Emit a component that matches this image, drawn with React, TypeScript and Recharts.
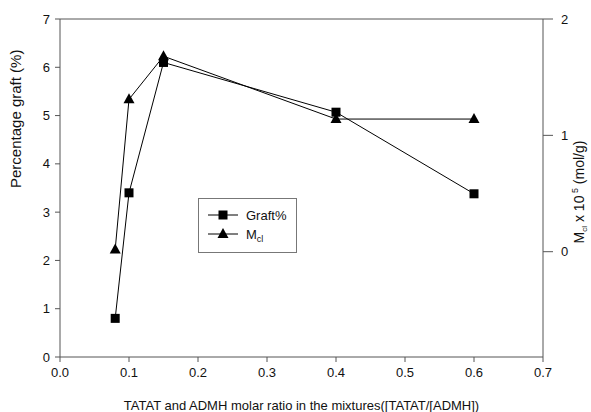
import React from 'react';
import { ComposedChart, Line, XAxis, YAxis, ReferenceLine } from 'recharts';

const ratios = [0.08, 0.1, 0.15, 0.4, 0.6];
const graftPct = [0.8, 3.4, 6.1, 5.07, 3.38];
const mclValues = [0.02, 1.31, 1.68, 1.14, 1.14];

const xTicks = [0, 0.1, 0.2, 0.3, 0.4, 0.5, 0.6, 0.7];
const leftTicks = [0, 1, 2, 3, 4, 5, 6, 7];
const rightTicks = [0, 1, 2];

const data = ratios.map((r, i) => ({ ratio: r, graft: graftPct[i], mcl: mclValues[i] }));

const FONT = '"Liberation Sans", Arial, sans-serif';
const AXIS = '#555';

const Square = (props: any) => {
  const { cx, cy, index } = props;
  return <rect key={'s' + index} x={cx - 4.5} y={cy - 4.5} width={9} height={9} fill="#000" />;
};

const Triangle = (props: any) => {
  const { cx, cy, index } = props;
  return <path key={'t' + index} d={`M${cx},${cy - 6} L${cx + 5.5},${cy + 4} L${cx - 5.5},${cy + 4} Z`} fill="#000" />;
};

const LegendBox = () => (
  <div style={{ position: 'absolute', left: 198, top: 198, border: '1px solid #777', width: 99, height: 55, boxSizing: 'border-box', background: '#fff' }}>
    <svg width={97} height={53} style={{ display: 'block' }}>
      <line x1={9} y1={16} x2={39} y2={16} stroke="#000" strokeWidth={1} />
      <rect x={19.5} y={11.5} width={9} height={9} fill="#000" />
      <text x={47} y={21} fontSize={13} fill="#111" fontFamily={FONT}>Graft%</text>
      <line x1={9} y1={35} x2={39} y2={35} stroke="#000" strokeWidth={1} />
      <path d="M24,29 L29.5,39 L18.5,39 Z" fill="#000" />
      <text x={47} y={40} fontSize={13} fill="#111" fontFamily={FONT}>
        M<tspan fontSize={9} dy={3}>cl</tspan>
      </text>
    </svg>
  </div>
);

const RightLabel = () => {
  const x = 584;
  const y = 192;
  return (
    <text x={x} y={y} transform={`rotate(-90, ${x}, ${y})`} textAnchor="middle" fontSize={14} fill="#111" fontFamily={FONT}>
      M<tspan fontSize={8} dy={3}>cl</tspan>
      <tspan dy={-3}> x 10</tspan>
      <tspan fontSize={9} dy={-6}> 5</tspan>
      <tspan dy={6}> (mol/g)</tspan>
    </text>
  );
};

export default function App() {
  return (
    <div style={{ position: 'absolute', left: 0, top: 0, width: 591, height: 412, background: '#fff' }}>
      <ComposedChart width={591} height={412} data={data} margin={{ top: 19, right: 0, bottom: 0, left: 0 }}>
        <XAxis
          dataKey="ratio"
          type="number"
          domain={[0, 0.7]}
          ticks={xTicks}
          tickFormatter={(v: number) => v.toFixed(1)}
          height={55}
          stroke={AXIS}
          tickSize={5}
          tick={{ fill: '#111', fontSize: 13, fontFamily: FONT, dy: 4 }}
          label={{ value: 'TATAT and ADMH molar ratio in the mixtures([TATAT/[ADMH])', position: 'insideBottom', offset: 2, fill: '#111', fontSize: 13, fontFamily: FONT }}
        />
        <YAxis
          yAxisId="left"
          domain={[0, 7]}
          ticks={leftTicks}
          width={60}
          stroke={AXIS}
          tickSize={5}
          tick={{ fill: '#111', fontSize: 13, fontFamily: FONT, dx: -3 }}
          label={{ value: 'Percentage graft (%)', angle: -90, position: 'insideLeft', offset: 16, fill: '#111', fontSize: 15, fontFamily: FONT }}
        />
        <YAxis
          yAxisId="right"
          orientation="right"
          domain={[-0.905, 2]}
          ticks={rightTicks}
          width={48}
          stroke={AXIS}
          tickSize={10}
          tick={{ fill: '#111', fontSize: 13, fontFamily: FONT, dx: 6 }}
          label={<RightLabel />}
        />
        <ReferenceLine yAxisId="left" y={7} stroke={AXIS} />
        <Line yAxisId="left" dataKey="graft" stroke="#000" strokeWidth={1} dot={Square} isAnimationActive={false} />
        <Line yAxisId="right" dataKey="mcl" stroke="#000" strokeWidth={1} dot={Triangle} isAnimationActive={false} />
      </ComposedChart>
      <LegendBox />
    </div>
  );
}
